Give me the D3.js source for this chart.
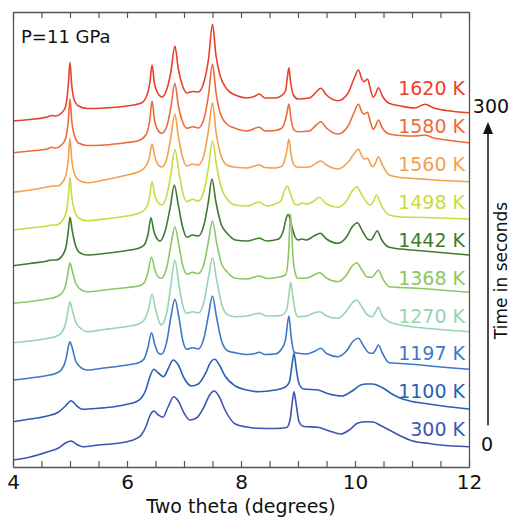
<!DOCTYPE html>
<html><head><meta charset="utf-8">
<script src="https://cdn.jsdelivr.net/npm/d3@7"></script>
<style>html,body{margin:0;padding:0;background:#fff}svg{display:block}</style>
</head><body><svg id="c" width="512" height="520"></svg>
<script>
// ---------- data (two theta in degrees, stacked intensity in arbitrary units) ----------
const temperatures = ["1620 K","1580 K","1560 K","1498 K","1442 K","1368 K","1270 K","1197 K","1100 K","300 K"];
const seriesColors = ["#e8412b","#ee6a3a","#f5a04c","#c6dc42","#3c7b2e","#8ac765","#96d4b2","#3f77c8","#2b5fb5","#3e55b1"];

const s1620 = [[4.0,346],[4.3,347.5],[4.6,350],[4.68,351.5],[4.75,351],[4.85,354],[4.92,360],[4.97,382],[5.0,404.7],[5.03,382],[5.08,366],[5.15,361],[5.3,358.5],[5.6,359],[6.0,361],[6.25,364],[6.33,369],[6.4,384],[6.44,402],[6.48,384],[6.54,374],[6.61,370],[6.7,378],[6.77,395],[6.84,421],[6.9,398],[6.97,382],[7.05,374],[7.15,375.5],[7.25,375],[7.35,385],[7.43,408],[7.5,442.7],[7.56,412],[7.63,392],[7.75,378],[7.9,372],[8.1,369],[8.25,371],[8.32,373],[8.42,369],[8.6,369],[8.7,371],[8.78,376],[8.81,388],[8.84,399.3],[8.87,385],[8.92,372],[9.0,368],[9.2,369],[9.32,375],[9.4,378.7],[9.5,372],[9.7,366.3],[9.88,374],[9.98,388],[10.06,397],[10.12,388],[10.16,385.3],[10.22,388],[10.27,378],[10.32,369.7],[10.36,373],[10.41,379.3],[10.48,371],[10.6,363.7],[10.8,361],[11.05,359],[11.23,362.7],[11.38,359],[11.6,356.5],[12.0,354.3]];
const s1580 = [[4.0,314.3],[4.3,316],[4.6,318],[4.68,319.7],[4.75,319],[4.85,322],[4.92,328],[4.97,346],[5.0,368],[5.03,346],[5.08,331],[5.15,324],[5.3,321.5],[5.6,322],[6.0,324.5],[6.2,326.3],[6.33,332],[6.4,347],[6.44,366],[6.48,348],[6.54,337],[6.61,333.7],[6.7,341],[6.77,360],[6.84,383.7],[6.9,362],[6.97,346],[7.05,338.7],[7.15,340.3],[7.25,339],[7.35,348],[7.43,372],[7.5,403],[7.56,375],[7.63,355],[7.75,343],[7.9,338.7],[8.1,336],[8.32,339.7],[8.42,336],[8.6,336.5],[8.72,339],[8.8,352],[8.84,363],[8.88,347],[8.93,337],[9.0,335.3],[9.2,336],[9.32,342],[9.4,345.3],[9.5,339],[9.7,333],[9.88,341],[9.98,354],[10.06,362.7],[10.12,355],[10.16,353],[10.22,354.7],[10.27,345],[10.32,337.7],[10.36,341],[10.41,347],[10.48,339],[10.6,333],[10.8,331.5],[11.05,331],[11.23,332],[11.38,329],[11.6,327],[12.0,324.3]];
const s1560 = [[4.0,274.7],[4.3,277],[4.6,280],[4.7,281],[4.78,281],[4.87,285],[4.93,292],[4.97,308],[5.0,328.7],[5.03,308],[5.08,293],[5.15,287],[5.3,284.3],[5.6,287],[6.0,292],[6.2,295.3],[6.32,300],[6.39,309],[6.44,323],[6.49,310],[6.55,302],[6.61,300],[6.7,309],[6.77,330],[6.84,353],[6.9,331],[6.97,311],[7.05,301],[7.15,303],[7.25,302],[7.35,312],[7.43,337],[7.5,364.3],[7.56,336],[7.63,315],[7.75,302],[7.9,299.7],[8.1,299],[8.32,302],[8.42,299.5],[8.6,299],[8.72,301],[8.8,315],[8.84,327.7],[8.88,312],[8.93,302],[9.0,299.7],[9.2,300],[9.32,304],[9.4,306],[9.5,302],[9.7,298],[9.88,305],[9.98,313],[10.06,317.7],[10.12,311],[10.16,308],[10.22,308.7],[10.28,302],[10.32,300.3],[10.36,304],[10.41,310.3],[10.48,302],[10.6,292],[10.8,289.5],[11.05,288.5],[11.4,287],[12.0,285.3]];
const s1498 = [[4.0,237],[4.3,239],[4.6,241],[4.68,242],[4.76,242],[4.86,246],[4.93,254],[4.97,270],[5.0,289.7],[5.03,271],[5.08,256],[5.15,249],[5.3,246.3],[5.6,248],[6.0,251],[6.2,253.7],[6.32,258],[6.39,268],[6.44,285.3],[6.49,271],[6.55,264],[6.61,262],[6.7,272],[6.77,293],[6.84,317.7],[6.91,295],[6.98,274],[7.05,265.3],[7.15,267.7],[7.25,266],[7.35,276],[7.43,300],[7.5,326.3],[7.57,302],[7.65,280],[7.77,267],[7.9,262],[8.1,261],[8.32,264.7],[8.45,261],[8.6,263],[8.7,266],[8.76,276],[8.81,281],[8.87,273],[8.94,263],[9.0,262],[9.07,264],[9.15,263],[9.28,266],[9.37,269.7],[9.5,263],[9.7,259.7],[9.85,266],[9.95,276],[10.03,280.3],[10.12,272],[10.2,265],[10.26,262],[10.32,265],[10.38,272],[10.45,263],[10.6,252],[10.8,250],[11.0,249.7],[11.5,249],[12.0,248]];
const s1442 = [[4.0,201.3],[4.3,203.5],[4.6,206],[4.68,207],[4.76,207],[4.86,211],[4.93,220],[4.97,236],[5.0,249.7],[5.04,236],[5.1,221],[5.18,214],[5.3,212],[5.6,213.5],[6.0,216.5],[6.2,218.7],[6.3,222],[6.37,233],[6.42,249.3],[6.47,236],[6.53,228],[6.58,226],[6.67,236],[6.76,260],[6.83,282],[6.9,262],[6.98,239],[7.05,229.7],[7.15,232],[7.25,231],[7.35,242],[7.43,266],[7.49,288],[7.56,265],[7.65,243],[7.77,233],[7.9,227],[8.1,226],[8.32,228.7],[8.45,226],[8.65,227.7],[8.74,236],[8.8,250],[8.83,252.7],[8.88,243],[8.95,230],[9.0,227],[9.07,228],[9.15,227],[9.28,231],[9.39,233.7],[9.5,228],[9.7,223.7],[9.85,230],[9.95,240],[10.04,244.3],[10.13,236],[10.22,228],[10.28,227],[10.33,231],[10.39,236.3],[10.46,228],[10.6,219.7],[10.8,218],[11.0,217],[11.5,214.5],[12.0,212]];
const s1368 = [[4.0,163.7],[4.3,165.5],[4.6,168],[4.75,170],[4.86,174],[4.93,183],[4.97,196],[5.0,204.3],[5.04,196],[5.1,184],[5.2,177],[5.3,175.3],[5.6,177],[6.0,179.5],[6.2,181],[6.3,184],[6.37,195],[6.43,209.7],[6.49,197],[6.55,190],[6.6,188.7],[6.7,200],[6.77,222],[6.84,240.3],[6.91,222],[6.98,201],[7.05,193],[7.15,194.7],[7.25,193.5],[7.35,203],[7.43,226],[7.5,246],[7.57,225],[7.66,203],[7.77,194.3],[7.9,188.7],[8.1,188],[8.32,191],[8.45,188.5],[8.65,189.7],[8.78,192],[8.83,210],[8.87,253],[8.91,212],[8.96,192],[9.0,188.7],[9.15,189],[9.28,192],[9.38,194.3],[9.5,189],[9.7,185.3],[9.85,192],[9.95,201],[10.03,204.3],[10.12,197],[10.22,190],[10.3,189.7],[10.35,193],[10.41,197],[10.48,189],[10.6,180.3],[10.8,179.5],[11.0,179],[11.5,177],[12.0,174.7]];
const s1270 = [[4.0,124.3],[4.3,126],[4.6,128.5],[4.75,130.5],[4.86,135],[4.93,145],[4.97,158],[5.0,165.3],[5.04,157],[5.1,145],[5.2,138],[5.3,135.3],[5.6,137.5],[6.0,140.5],[6.2,143],[6.3,147],[6.38,158],[6.44,172.7],[6.5,158],[6.56,146],[6.6,142],[6.7,155],[6.77,182],[6.84,207],[6.91,183],[6.98,161],[7.05,153.7],[7.15,155.3],[7.25,154],[7.35,165],[7.43,190],[7.5,209.3],[7.57,188],[7.66,163],[7.77,152],[7.9,150.3],[8.1,151],[8.32,153.7],[8.45,151],[8.7,151.5],[8.8,157],[8.84,172],[8.87,184.7],[8.91,170],[8.96,154],[9.0,150.3],[9.15,151],[9.28,154],[9.38,155.3],[9.5,151],[9.7,148.7],[9.85,156],[9.95,164],[10.03,167],[10.12,160],[10.22,152],[10.3,150.3],[10.35,154],[10.41,159.7],[10.48,151],[10.6,145.3],[10.8,142],[11.0,140.3],[11.5,137.5],[12.0,135.3]];
const s1197 = [[4.0,87],[4.3,89],[4.6,91.5],[4.75,93.5],[4.86,98],[4.93,108],[4.97,120],[5.0,125.3],[5.04,119],[5.1,106],[5.2,99],[5.3,97],[5.6,99],[6.0,102],[6.2,104.3],[6.3,108],[6.37,120],[6.43,134.3],[6.49,122],[6.55,114],[6.6,112.7],[6.7,126],[6.77,150],[6.84,167.7],[6.91,150],[6.98,126],[7.05,117.7],[7.15,119.3],[7.25,118],[7.35,129],[7.43,152],[7.5,171],[7.57,150],[7.66,126],[7.77,116],[7.9,114.3],[8.1,112.5],[8.25,113.5],[8.32,114.7],[8.42,112.5],[8.6,113],[8.7,117],[8.78,127],[8.84,151],[8.88,130],[8.93,115],[9.0,113.7],[9.15,113],[9.3,116],[9.4,118.7],[9.5,113.5],[9.7,110.3],[9.85,116],[9.97,126],[10.06,128.7],[10.15,121],[10.25,114],[10.31,113.7],[10.36,117],[10.41,122],[10.48,114],[10.6,104.3],[10.8,103.5],[11.0,102.7],[11.5,100],[12.0,97.7]];
const s1100 = [[4.0,45.3],[4.3,48],[4.6,51],[4.8,55],[4.92,61],[5.02,66.3],[5.12,61],[5.22,57.7],[5.5,58.7],[5.8,60.5],[6.0,62.7],[6.15,65],[6.25,69],[6.33,77],[6.4,90],[6.47,97.7],[6.55,94],[6.64,90.3],[6.72,98],[6.81,107],[6.9,102],[7.0,89],[7.13,81],[7.25,83],[7.38,94],[7.47,105],[7.54,107.7],[7.62,102],[7.72,91],[7.9,81],[8.1,77],[8.3,75.3],[8.6,77],[8.78,80],[8.85,85.3],[8.89,100],[8.93,113.7],[8.97,98],[9.02,83],[9.1,78],[9.35,77],[9.55,73],[9.77,71],[9.95,76],[10.1,82],[10.2,83],[10.3,83],[10.4,81.5],[10.5,78.7],[10.65,73],[10.8,68.7],[11.0,65.5],[11.2,63.7],[11.6,60.5],[12.0,58]];
const s300 = [[4.0,7],[4.3,10],[4.6,15],[4.8,19],[4.92,24],[5.02,26],[5.12,22.5],[5.22,20.3],[5.5,22],[5.8,23.5],[6.0,25.3],[6.15,28],[6.25,32],[6.33,40],[6.4,51],[6.47,56],[6.55,52],[6.63,49.7],[6.72,60],[6.82,70.3],[6.9,66],[7.0,54],[7.1,47],[7.22,49],[7.35,60],[7.45,72],[7.53,76],[7.62,70],[7.72,57],[7.9,43],[8.1,40],[8.3,38.7],[8.6,38.5],[8.8,39.5],[8.86,47],[8.9,65],[8.93,75.3],[8.97,62],[9.02,45],[9.1,40.5],[9.35,39.7],[9.55,36],[9.75,33],[9.9,37],[10.05,44],[10.2,45.3],[10.32,45],[10.45,41.5],[10.6,37],[10.8,31],[11.0,26.3],[11.3,23.5],[11.5,22],[12.0,20.3]];
const allSeries = [s1620, s1580, s1560, s1498, s1442, s1368, s1270, s1197, s1100, s300];

const xTicks = d3.range(4, 12.001, 0.5);
const xTickLabels = [4, 6, 8, 10, 12];
const timeTicks = [0, 300];
const pressureLabel = "P=11 GPa";
const xTitle = "Two theta (degrees)";
const timeTitle = "Time in seconds";

// ---------- layout ----------
const FONT = "'DejaVu Sans', Verdana, sans-serif";
const svg = d3.select("#c");
const L = 13, R = 469, T = 12, B = 467;
const x = d3.scaleLinear().domain([4, 12]).range([L, R]);
const y = d3.scaleLinear().domain([0, 455]).range([B, T]);
const labelY = d3.scalePoint().domain(temperatures).range([95, 436.3]);
const tY = d3.scaleLinear().domain([0, 300]).range([444.5, 106]);

// curves (top series first so lower ones lie on top)
const line = d3.line().x(d => x(d[0])).y(d => y(d[1])).curve(d3.curveMonotoneX);
allSeries.forEach((s, i) => {
  svg.append("path").datum(s)
    .attr("d", line).attr("fill", "none")
    .attr("stroke", seriesColors[i]).attr("stroke-width", 1.6)
    .attr("stroke-linejoin", "round");
});

// labels
svg.append("g").selectAll("text").data(temperatures).join("text")
  .attr("x", 465).attr("y", d => labelY(d))
  .attr("text-anchor", "end")
  .attr("font-family", FONT).attr("font-size", 19)
  .attr("fill", (d, i) => seriesColors[i])
  .text(d => d);

// axes / frame
const axisColor = "#555";
const gB = svg.append("g").attr("transform", `translate(0,${B})`)
  .call(d3.axisBottom(x).tickValues(xTicks).tickSizeInner(-6).tickSizeOuter(0).tickPadding(8)
    .tickFormat(d => xTickLabels.includes(d) ? d3.format("d")(d) : ""));
const gT = svg.append("g").attr("transform", `translate(0,${T})`)
  .call(d3.axisTop(x).tickValues(xTicks).tickSizeInner(-6).tickSizeOuter(0).tickFormat(""));
const gL = svg.append("g").attr("transform", `translate(${L},0)`)
  .call(d3.axisLeft(y).tickValues([]).tickSizeOuter(0));
const gR = svg.append("g").attr("transform", `translate(${R},0)`)
  .call(d3.axisRight(y).tickValues([]).tickSizeOuter(0));
[gB, gT, gL, gR].forEach(g => {
  g.selectAll("path.domain").attr("stroke", axisColor).attr("stroke-width", 1.3);
  g.selectAll(".tick line").attr("stroke", axisColor).attr("stroke-width", 1.2);
});
gB.selectAll(".tick text").attr("font-family", FONT).attr("font-size", 20).attr("fill", "#111");

// x title
svg.append("text").attr("x", (L + R) / 2).attr("y", 513)
  .attr("text-anchor", "middle").attr("font-family", FONT).attr("font-size", 19).attr("fill", "#111")
  .text(xTitle);

// pressure label
svg.append("text").attr("x", 21).attr("y", 43.3)
  .attr("font-family", FONT).attr("font-size", 18).attr("fill", "#111")
  .text(pressureLabel);

// time arrow
const ax = 488;
const tipY = tY(300) + 16;
svg.append("line").attr("x1", ax).attr("x2", ax)
  .attr("y1", tY(0) - 19).attr("y2", tipY + 10)
  .attr("stroke", "#111").attr("stroke-width", 1.5);
svg.append("path")
  .attr("d", `M${ax - 5},${tipY + 12}L${ax},${tipY}L${ax + 5},${tipY + 12}Z`)
  .attr("fill", "#111");
svg.append("g").selectAll("text").data(timeTicks).join("text")
  .attr("x", d => d === 0 ? 487 : 491).attr("y", d => tY(d))
  .attr("dy", "0.36em").attr("text-anchor", "middle")
  .attr("font-family", FONT).attr("font-size", 19).attr("fill", "#111")
  .text(d => d);
svg.append("text").attr("transform", `translate(507,270.5) rotate(-90)`)
  .attr("text-anchor", "middle").attr("font-family", FONT).attr("font-size", 17).attr("fill", "#111")
  .text(timeTitle);
</script>
</body></html>
